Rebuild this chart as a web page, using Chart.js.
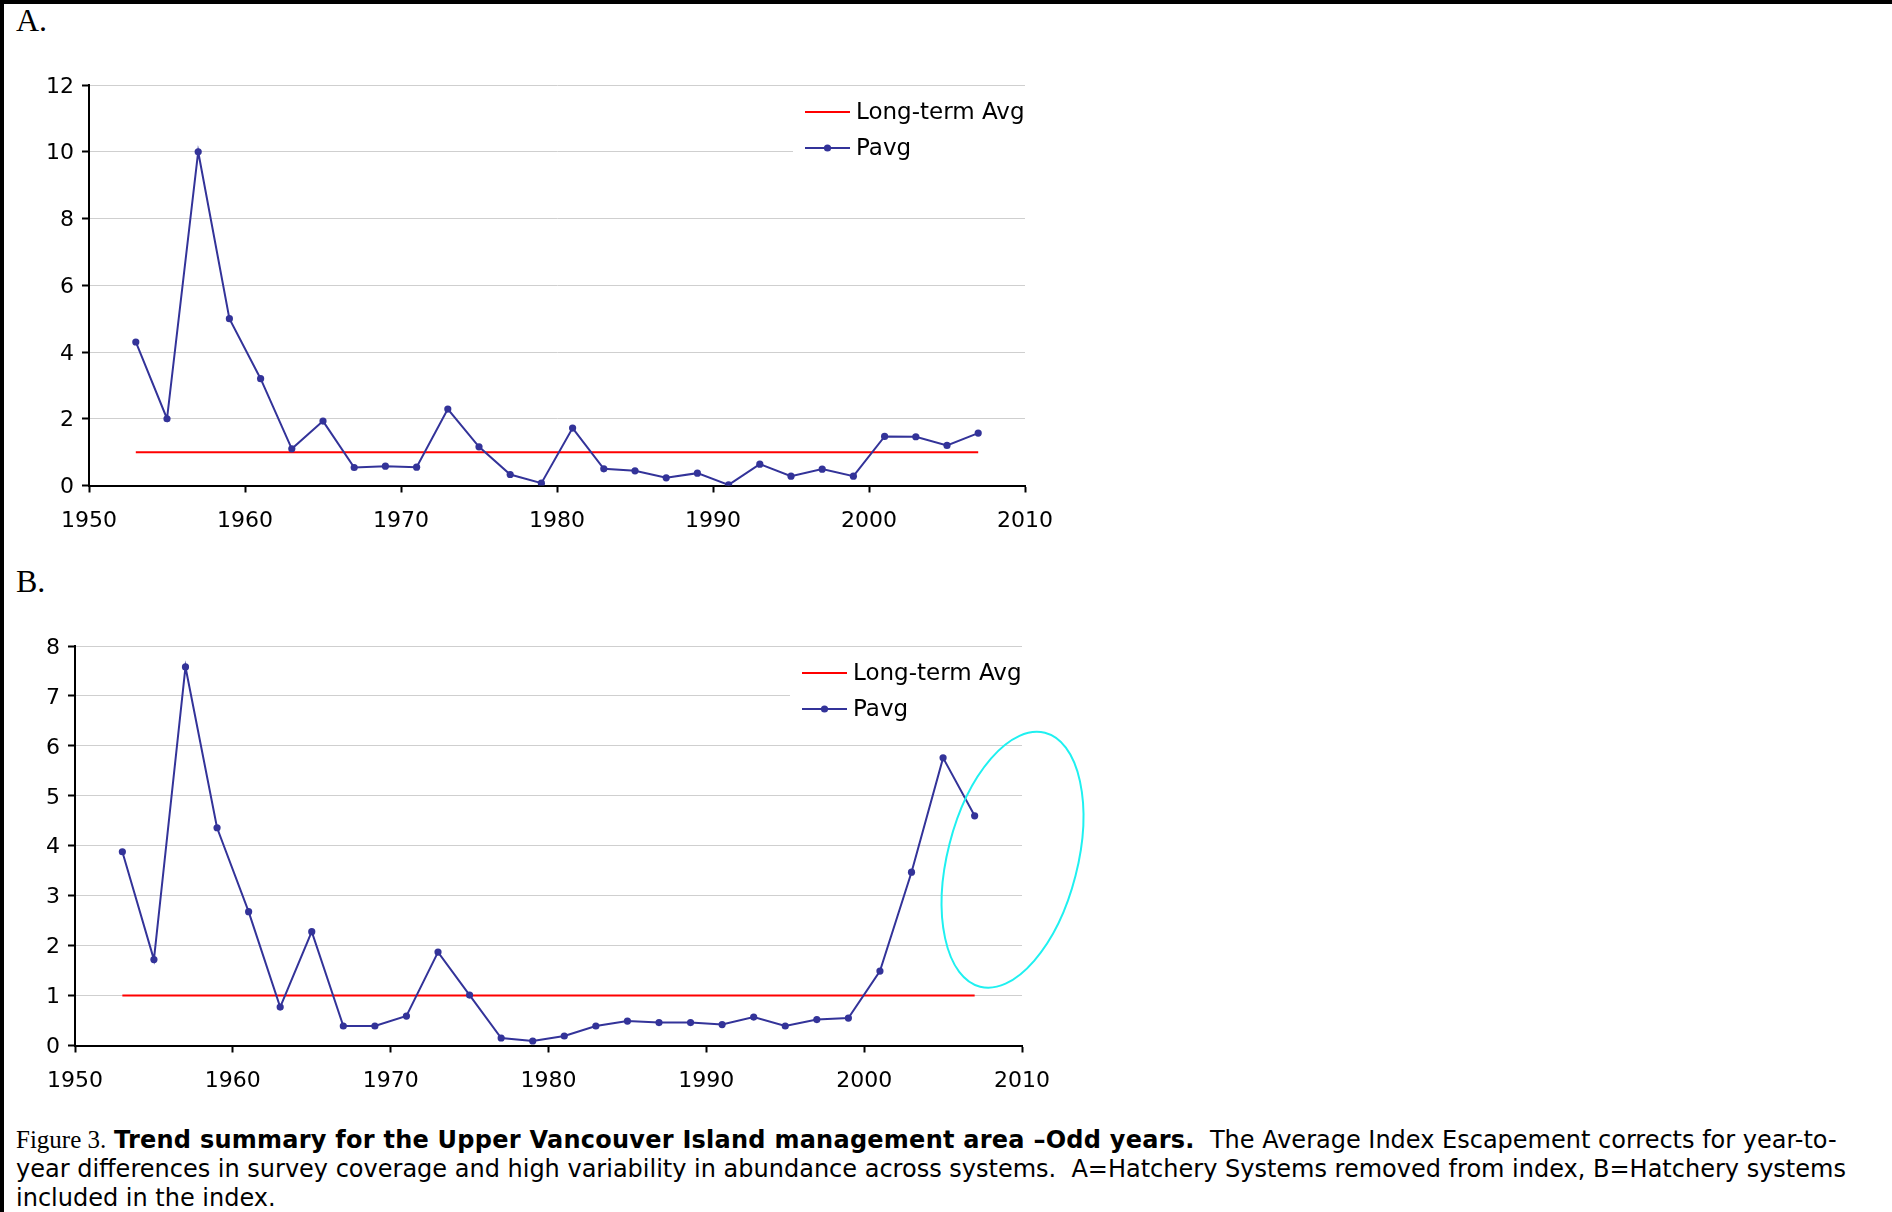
<!DOCTYPE html>
<html>
<head>
<meta charset="utf-8">
<title>Upper Vancouver Island – Odd years</title>
<script src="https://cdn.jsdelivr.net/npm/chart.js@4.4.1/dist/chart.umd.min.js"></script>
<style>
  html, body { margin: 0; padding: 0; background: #fff; }
  body { width: 1892px; height: 1212px; position: relative; overflow: hidden; }
  .edge-top { position: absolute; left: 0; top: 0; width: 1892px; height: 4px; background: #000; }
  .edge-left { position: absolute; left: 0; top: 0; width: 4px; height: 1212px; background: #000; }
  .panel-tag { position: absolute; left: 16px; font-family: "Liberation Serif", "Times New Roman", serif;
               font-size: 32px; line-height: 1; color: #000; }
  .panel { position: absolute; left: 0; width: 1100px; height: 540px; }
  #caption { position: absolute; left: 16px; top: 1125px; font-family: "DejaVu Sans", Verdana, sans-serif;
             font-size: 24px; line-height: 29px; color: #000; white-space: nowrap; }
  #caption .fig { font-family: "Liberation Serif", "Times New Roman", serif; font-size: 25px; }
  #caption b { letter-spacing: 0.25px; }
</style>
</head>
<body>
<div class="edge-top"></div>
<div class="edge-left"></div>

<div class="panel-tag" style="top:4px;">A.</div>
<div class="panel" style="top:0px;"><canvas id="chartA"></canvas></div>

<div class="panel-tag" style="top:565px;">B.</div>
<div class="panel" style="top:560px;"><canvas id="chartB"></canvas></div>

<div id="caption">
  <div><span class="fig">Figure 3.</span> <b>Trend summary for the Upper Vancouver Island management area –Odd years.</b>&nbsp; The Average Index Escapement corrects for year-to-</div>
  <div>year differences in survey coverage and high variability in abundance across systems.&nbsp; A=Hatchery Systems removed from index, B=Hatchery systems</div>
  <div>included in the index.</div>
</div>

<script>
// Survey years (odd years only)
const years = [1953, 1955, 1957, 1959, 1961, 1963, 1965, 1967, 1969, 1971,
               1973, 1975, 1977, 1979, 1981, 1983, 1985, 1987, 1989, 1991,
               1993, 1995, 1997, 1999, 2001, 2003, 2005, 2007];

// A: hatchery systems removed from the index
const pavgA = [4.3, 2.0, 10.0, 5.0, 3.2, 1.1, 1.93, 0.54, 0.58, 0.55,
               2.29, 1.16, 0.33, 0.07, 1.72, 0.50, 0.44, 0.23, 0.37, 0.02,
               0.64, 0.28, 0.49, 0.28, 1.47, 1.46, 1.20, 1.57];

// B: hatchery systems included in the index
const pavgB = [3.88, 1.72, 7.58, 4.36, 2.68, 0.77, 2.28, 0.39, 0.39, 0.59,
               1.87, 1.01, 0.15, 0.09, 0.19, 0.39, 0.49, 0.46, 0.46, 0.42,
               0.57, 0.39, 0.52, 0.55, 1.49, 3.47, 5.76, 4.60];

// Long-term average reference line (spans first to last survey year)
const avgYears = [1953, 2007];
const longTermAvgA = [1.0, 1.0];
const longTermAvgB = [1.0, 1.0];

// Axis settings
const xTicks = [1950, 1960, 1970, 1980, 1990, 2000, 2010];
const yTicksA = [0, 2, 4, 6, 8, 10, 12];
const yTicksB = [0, 1, 2, 3, 4, 5, 6, 7, 8];

// Highlight around the most recent years in panel B (centre in data units)
const highlightB = { year: 2009.4, value: 3.72, rx: 65, ry: 131, tilt: 0.25 };

const SANS = '"DejaVu Sans", Verdana, sans-serif';
const NAVY = '#333399';
const RED = '#ff0000';

function pairs(xs, ys) { return xs.map((x, i) => ({ x: x, y: ys[i] })); }

// Legend drawn in the upper-right corner of the plot area
const cornerLegend = {
  id: 'cornerLegend',
  afterDatasetsDraw(chart) {
    const { ctx, chartArea } = chart;
    const x0 = chartArea.right - 220;
    const y0 = chartArea.top + 27;
    ctx.save();
    ctx.fillStyle = '#fff';
    ctx.fillRect(x0 - 12, chartArea.top + 6, chartArea.right - x0 + 14, 74);
    chart.data.datasets.forEach((ds, i) => {
      const y = y0 + i * 36;
      ctx.strokeStyle = ds.borderColor;
      ctx.lineWidth = ds.borderWidth;
      ctx.beginPath(); ctx.moveTo(x0, y); ctx.lineTo(x0 + 45, y); ctx.stroke();
      if (ds.pointRadius > 0) {
        ctx.fillStyle = ds.pointBackgroundColor;
        ctx.beginPath(); ctx.arc(x0 + 22.5, y, ds.pointRadius, 0, Math.PI * 2); ctx.fill();
      }
      ctx.fillStyle = '#000';
      ctx.font = '23px ' + SANS;
      ctx.textBaseline = 'middle';
      ctx.textAlign = 'left';
      ctx.fillText(ds.label, x0 + 51, y + 1);
    });
    ctx.restore();
  }
};

// Tilted ellipse marking the recent years
const highlightRing = {
  id: 'highlightRing',
  afterDraw(chart, args, opts) {
    if (!opts || !opts.spec) return;
    const s = opts.spec;
    const { ctx, scales } = chart;
    const cx = scales.x.getPixelForValue(s.year);
    const cy = scales.y.getPixelForValue(s.value);
    ctx.save();
    ctx.strokeStyle = '#1ff0f0';
    ctx.lineWidth = 2;
    ctx.beginPath();
    ctx.ellipse(cx, cy, s.rx, s.ry, s.tilt, 0, Math.PI * 2);
    ctx.stroke();
    ctx.restore();
  }
};

function makeChart(id, pavg, avg, yTicks, yAxisWidth, padTop, padRight, ring) {
  const yMax = yTicks[yTicks.length - 1];
  const yStep = yTicks[1] - yTicks[0];
  return new Chart(document.getElementById(id), {
    type: 'line',
    data: {
      datasets: [
        {
          label: 'Long-term Avg',
          data: pairs(avgYears, avg),
          borderColor: RED,
          backgroundColor: RED,
          borderWidth: 2,
          pointRadius: 0,
          pointBackgroundColor: RED,
          tension: 0,
          order: 2
        },
        {
          label: 'Pavg',
          data: pairs(years, pavg),
          borderColor: NAVY,
          backgroundColor: NAVY,
          borderWidth: 2,
          pointRadius: 3.6,
          pointBorderWidth: 0,
          pointBackgroundColor: NAVY,
          tension: 0,
          order: 1
        }
      ]
    },
    options: {
      responsive: true,
      maintainAspectRatio: false,
      animation: false,
      events: [],
      layout: { padding: { top: padTop, right: padRight, left: 0, bottom: 0 } },
      plugins: {
        legend: { display: false },
        tooltip: { enabled: false },
        highlightRing: { spec: ring }
      },
      scales: {
        x: {
          type: 'linear',
          min: xTicks[0],
          max: xTicks[xTicks.length - 1],
          afterBuildTicks(scale) { scale.ticks = xTicks.map(v => ({ value: v })); },
          ticks: {
            callback: v => String(v),
            color: '#000',
            font: { family: SANS, size: 22 },
            padding: 16,
            maxRotation: 0,
            autoSkip: false
          },
          grid: { drawOnChartArea: false, drawTicks: true, tickLength: 7, tickColor: '#000', tickWidth: 2 },
          border: { display: true, color: '#000', width: 2 },
          afterFit(scale) { scale.height = 54.5; }
        },
        y: {
          min: 0,
          max: yMax,
          afterBuildTicks(scale) { scale.ticks = yTicks.map(v => ({ value: v })); },
          ticks: {
            stepSize: yStep,
            color: '#000',
            font: { family: SANS, size: 22 },
            padding: 8,
            labelOffset: 2
          },
          grid: { color: '#cfcfcf', lineWidth: 1, drawTicks: true, tickLength: 7, tickColor: '#000', tickWidth: 2 },
          border: { display: true, color: '#000', width: 2 },
          afterFit(scale) { scale.width = yAxisWidth; }
        }
      }
    },
    plugins: [cornerLegend, highlightRing]
  });
}

makeChart('chartA', pavgA, longTermAvgA, yTicksA, 89, 85, 75, null);
makeChart('chartB', pavgB, longTermAvgB, yTicksB, 75, 86, 78, highlightB);
</script>
</body>
</html>
